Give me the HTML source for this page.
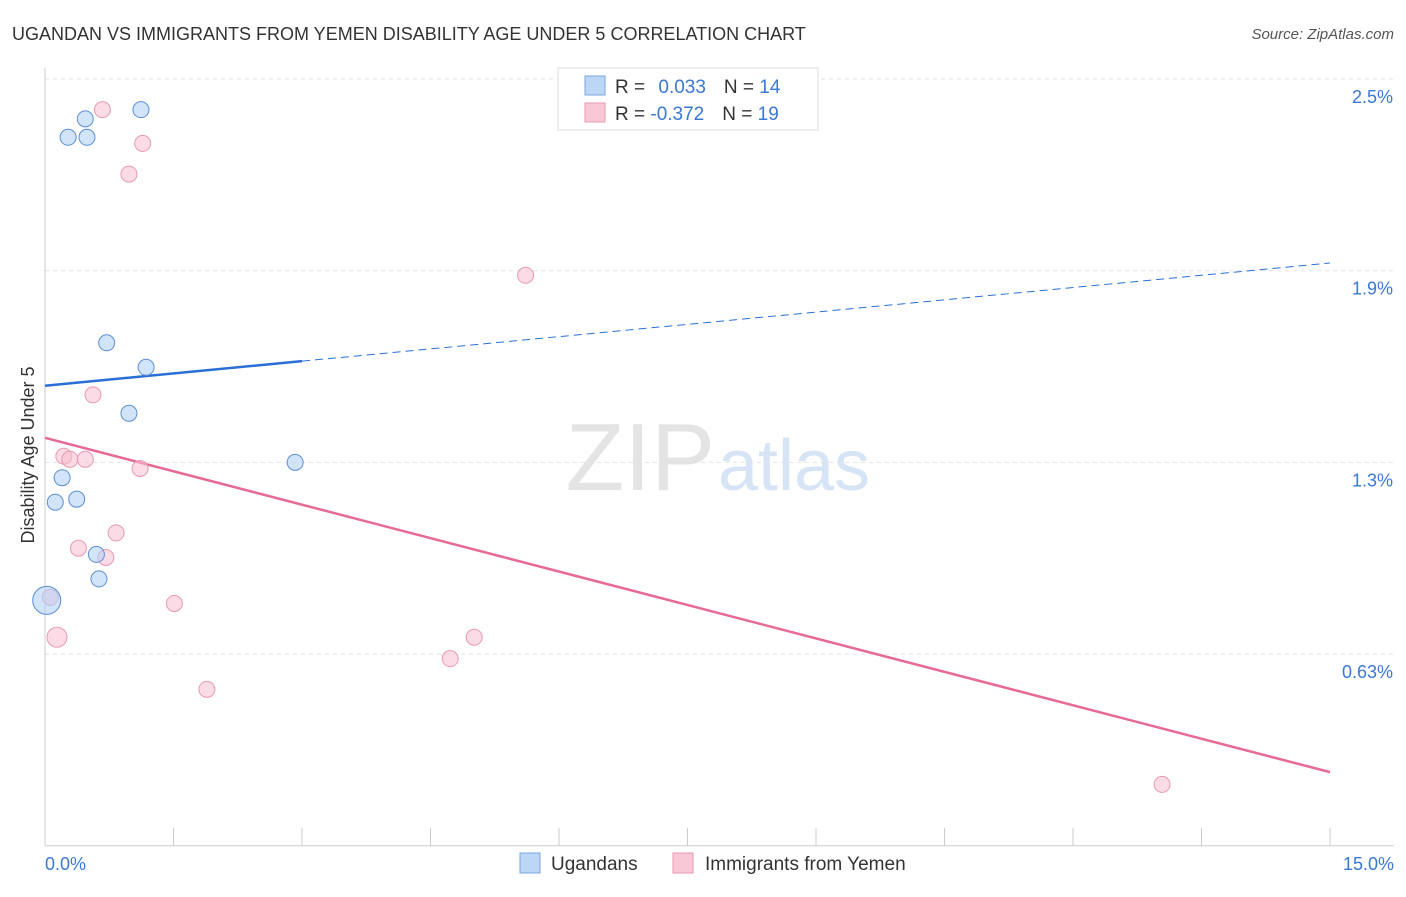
<!DOCTYPE html>
<html><head><meta charset="utf-8"><style>
body{margin:0;background:#fff;font-family:"Liberation Sans",sans-serif}
svg text{font-family:"Liberation Sans",sans-serif}
</style></head><body>
<svg id="chart" width="1406" height="892" xmlns="http://www.w3.org/2000/svg">
<text x="12" y="40" font-size="18" fill="#333">UGANDAN VS IMMIGRANTS FROM YEMEN DISABILITY AGE UNDER 5 CORRELATION CHART</text>
<text x="1394" y="39" font-size="15" fill="#555" text-anchor="end" font-style="italic">Source: ZipAtlas.com</text>
<text x="715" y="490" font-size="96" fill="#e4e4e4" text-anchor="end" font-family="Liberation Serif">ZIP</text>
<text x="718" y="490" font-size="72" fill="#d6e4f5">atlas</text>
<g id="grid"></g><g id="axes"></g><g id="lines"></g><g id="points"></g>
<text transform="translate(34,455) rotate(-90)" font-size="18" fill="#333" text-anchor="middle">Disability Age Under 5</text>
<text x="45" y="870" font-size="18" fill="#3a78d4">0.0%</text>
<text x="1394" y="870" font-size="18" fill="#3a78d4" text-anchor="end">15.0%</text>
<g>
<rect x="558" y="68" width="260" height="62" fill="#fff" stroke="#ddd"/>
<rect x="585" y="76" width="20" height="19" fill="#bcd6f5" stroke="#7aa6de"/>
<rect x="585" y="103" width="20" height="19" fill="#f8c8d6" stroke="#e89ab2"/>
<text x="615" y="93" font-size="19" fill="#333">R = <tspan fill="#3a78d4" dx="8">0.033</tspan><tspan dx="18" fill="#333">N = </tspan><tspan fill="#3a78d4">14</tspan></text>
<text x="615" y="120" font-size="19" fill="#333">R = <tspan fill="#3a78d4">-0.372</tspan><tspan dx="18" fill="#333">N = </tspan><tspan fill="#3a78d4">19</tspan></text>
</g>
<g>
<rect x="520" y="853" width="20" height="20" fill="#bcd6f5" stroke="#7aa6de"/>
<text x="551" y="870" font-size="19" fill="#333">Ugandans</text>
<rect x="673" y="853" width="20" height="20" fill="#f8c8d6" stroke="#e89ab2"/>
<text x="705" y="870" font-size="19" fill="#333">Immigrants from Yemen</text>
</g>
</svg>
<script>
const yTicks=[2.5,1.875,1.25,0.625];
const yTickLabels=["2.5%","1.9%","1.3%","0.63%"];
const xTicks=[0,1.5,3,4.5,6,7.5,9,10.5,12,13.5,15];
const ugX=[1.12,0.47,0.27,0.49,0.72,1.18,0.98,2.92,0.20,0.12,0.37,0.60,0.63,0.02];
const ugY=[2.40,2.37,2.31,2.31,1.64,1.56,1.41,1.25,1.20,1.12,1.13,0.95,0.87,0.80];
const ugR=[8,8,8,8,8,8,8,8,8,8,8,8,8,14];
const yeX=[0.67,1.14,0.98,5.61,0.56,0.22,0.29,0.47,1.11,0.83,0.39,0.71,1.51,0.06,0.14,5.01,4.73,1.89,13.04];
const yeY=[2.40,2.29,2.19,1.86,1.47,1.27,1.26,1.26,1.23,1.02,0.97,0.94,0.79,0.81,0.68,0.68,0.61,0.51,0.20];
const yeR=[8,8,8,8,8,8,8,8,8,8,8,8,8,8,10,8,8,8,8];
const ugTrend=[1.50,1.90];
const yeTrend=[1.33,0.24];
const ugSolidEnd=3.0;
const NS="http://www.w3.org/2000/svg";
const X=v=>45+v*(1285/15);
const Y=v=>79+(2.5-v)*306.7;
function mk(parent,tag,attrs){const e=document.createElementNS(NS,tag);for(const k in attrs)e.setAttribute(k,attrs[k]);document.getElementById(parent).appendChild(e);return e;}
yTicks.forEach((t,i)=>{
 const l=mk('grid','line',{x1:45,x2:1394,y1:Y(t),y2:Y(t),stroke:'#e2e2e2','stroke-dasharray':'4,4'});
 
 
 const tx=mk('grid','text',{x:1393,y:Y(t)+24,'font-size':18,fill:'#3a78d4','text-anchor':'end'});
 tx.textContent=yTickLabels[i];
 
 
});
const xa=mk('axes','line',{x1:45,x2:1394,y1:Y(0),y2:Y(0),stroke:'#ccc'});


const ya=mk('axes','line',{x1:45,x2:45,y1:68,y2:Y(0),stroke:'#ccc'});


xTicks.forEach(t=>{
 const l=mk('axes','line',{x1:X(t),x2:X(t),y1:Y(0),y2:Y(0)-18,stroke:'#ccc'});
 
 
});
const lin=(tr,x)=>tr[0]+(tr[1]-tr[0])*x/15;
let l1=mk('lines','line',{x1:X(0),y1:Y(lin(ugTrend,0)),x2:X(ugSolidEnd),y2:Y(lin(ugTrend,ugSolidEnd)),stroke:'#2a6fd6','stroke-width':2.5});


let l2=mk('lines','line',{x1:X(ugSolidEnd),y1:Y(lin(ugTrend,ugSolidEnd)),x2:X(15),y2:Y(lin(ugTrend,15)),stroke:'#2a6fd6','stroke-width':1,'stroke-dasharray':'8,5'});


let l3=mk('lines','line',{x1:X(0),y1:Y(lin(yeTrend,0)),x2:X(15),y2:Y(lin(yeTrend,15)),stroke:'#e86a94','stroke-width':2.5});


yeX.forEach((x,i)=>{
 const c=mk('points','circle',{cx:X(x),cy:Y(yeY[i]),r:yeR[i],fill:'rgba(248,190,208,0.55)',stroke:'#e89ab2','stroke-width':1});
 
 
});
ugX.forEach((x,i)=>{
 const c=mk('points','circle',{cx:X(x),cy:Y(ugY[i]),r:ugR[i],fill:'rgba(180,210,245,0.6)',stroke:'#5b8fd3','stroke-width':1});
 
 
});
</script>
</body></html>
